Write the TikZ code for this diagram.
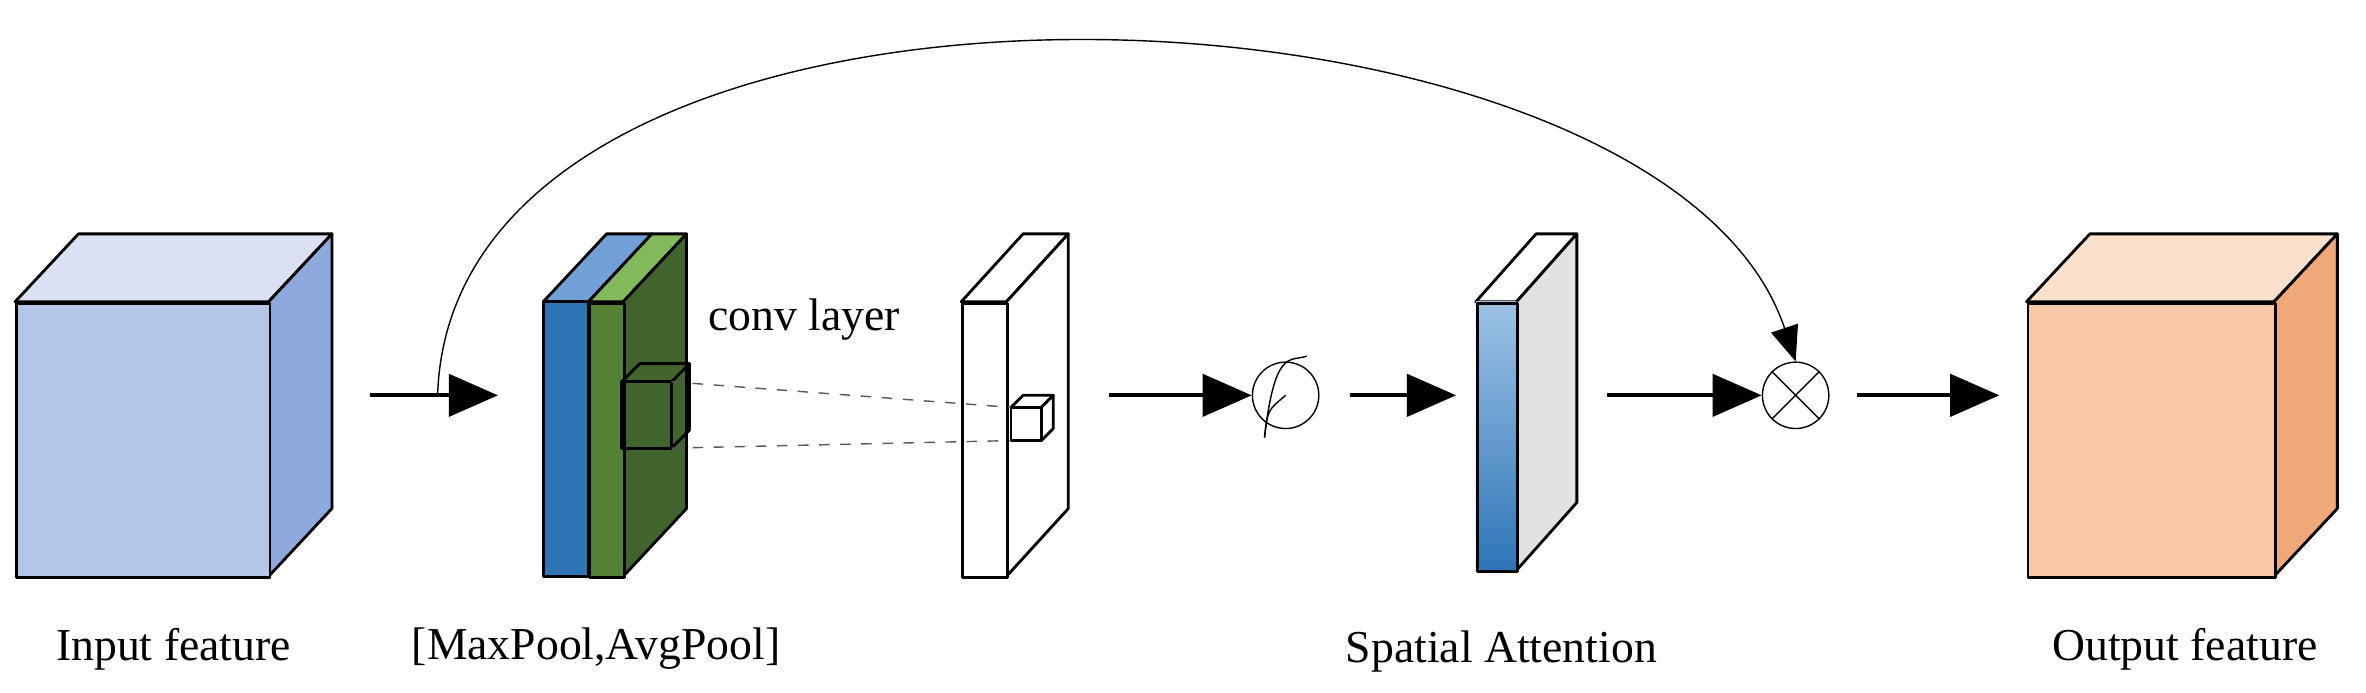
\documentclass[tikz,border=0pt]{standalone}
\usepackage{fontspec}
\setmainfont{Liberation Serif}
\usetikzlibrary{arrows.meta}
\begin{document}
\begin{tikzpicture}[x=0.01509cm,y=-0.01509cm,
  fl/.style={very thick,-{Triangle[length=14pt,width=12pt]}},
  lab/.style={font=\fontsize{13pt}{15pt}\selectfont},
  edge/.style={draw=black,line width=0.8pt,line join=round}]
\useasboundingbox (0,0) rectangle (1568,459);
% cube macro-like drawing
\newcommand{\mycube}[8]{% x1 x2 y1 y2 dx dy front top side
}
% Input cube
\fill[fill={rgb,255:red,217;green,225;blue,242},edge] (10,200)--(52,155)--(220,155)--(178,200)--cycle;
\fill[fill={rgb,255:red,142;green,169;blue,219},edge] (178,200)--(220,155)--(220,337)--(178,382)--cycle;
\node[fill={rgb,255:red,180;green,198;blue,231},edge,minimum width=168*0.01509cm,minimum height=182*0.01509cm,anchor=north west,inner sep=0] (in) at (10,200) {};
% Output cube
\fill[fill={rgb,255:red,251;green,224;blue,204},edge] (1343,200)--(1385,155)--(1549,155)--(1507,200)--cycle;
\fill[fill={rgb,255:red,240;green,168;blue,120},edge] (1507,200)--(1549,155)--(1549,337)--(1507,382)--cycle;
\node[fill={rgb,255:red,248;green,200;blue,166},edge,minimum width=164*0.01509cm,minimum height=182*0.01509cm,anchor=north west,inner sep=0] (out) at (1343,200) {};
% Pool block
\fill[fill={rgb,255:red,112;green,160;blue,214},edge] (360,200)--(402,155)--(432,155)--(390,200)--cycle;
\fill[fill={rgb,255:red,130;green,185;blue,90},edge] (390,200)--(432,155)--(455,155)--(413,200)--cycle;
\fill[fill={rgb,255:red,65;green,100;blue,45},edge] (413,200)--(455,155)--(455,337)--(413,382)--cycle;
\fill[fill={rgb,255:red,46;green,117;blue,182},edge] (360,200) rectangle (390,382);
\node[fill={rgb,255:red,84;green,130;blue,53},edge,minimum width=23*0.01509cm,minimum height=182*0.01509cm,anchor=north west,inner sep=0] (pool) at (390,200) {};
% small cube in pool
\draw[edge] (412,253)--(424,241)--(457,241)--(445,253) (445,253)--(457,241)--(457,285)--(445,297);
\draw[edge] (412,253) rectangle (445,297);
\coordinate (sc1) at (445,253); \coordinate (sc2) at (445,297);
% conv plate
\draw[fill=white,edge] (637,200)--(678,155)--(708,155)--(667,200)--cycle;
\draw[fill=white,edge] (667,200)--(708,155)--(708,337)--(667,382)--cycle;
\node[fill=white,edge,minimum width=30*0.01509cm,minimum height=182*0.01509cm,anchor=north west,inner sep=0] (conv) at (637,200) {};
\draw[fill=white,edge] (670,270)--(678,262)--(698,262)--(690,270)--cycle;
\draw[fill=white,edge] (690,270)--(698,262)--(698,284)--(690,292)--cycle;
\draw[fill=white,edge] (670,270) rectangle (690,292);
\coordinate (pc1) at (670,270); \coordinate (pc2) at (670,292);
\draw[dashed,gray!70!black,thin] (sc1)--(pc1) (sc2)--(pc2);
\node[lab] at (533,212) {conv layer};
% attention plate
\draw[fill=white,edge] (978,200)--(1018,155)--(1045,155)--(1005,200)--cycle;
\draw[fill={rgb,255:red,226;green,226;blue,226},edge] (1005,200)--(1045,155)--(1045,333)--(1005,378)--cycle;
\shade[top color={rgb,255:red,157;green,195;blue,230},bottom color={rgb,255:red,46;green,117;blue,182}] (978,200) rectangle (1005,378);
\node[edge,minimum width=27*0.01509cm,minimum height=178*0.01509cm,anchor=north west,inner sep=0] (att) at (978,200) {};
% circles
\node[draw,circle,minimum size=44*0.01509cm,inner sep=0,thin] (sig) at (852,262) {};
\draw[thin] (838,290) .. controls (845,230) and (855,240) .. (866,236);
\draw[thin] (838,290) .. controls (840,272) .. (852,262);
\node[draw,circle,minimum size=44*0.01509cm,inner sep=0,thin] (mul) at (1190,262) {};
\draw[thin] (mul.north west)--(mul.south east) (mul.north east)--(mul.south west);
% arrows
\coordinate (a0) at (245,262);
\draw[fl] (a0) -- (330,262);
\coordinate (a1) at (735,262);
\draw[fl] (a1) -- (sig.west);
\draw[fl] (sig.east) ++(20,0) -- (965,262);
\draw[fl] (1065,262) -- (mul.west);
\draw[fl] (mul.east) ++(18,0) -- (1325,262);
\coordinate (sk) at (290,262);
\draw[thin,-{Triangle[length=10pt,width=8pt]}] (sk) .. controls (300,-60) and (1100,-30) .. (mul.north);
% labels
\node[lab] at (115,430) {Input feature};
\node[lab] at (395,430) {[MaxPool,AvgPool]};
\node[lab] at (995,432) {Spatial Attention};
\node[lab] at (1448,430) {Output feature};
\end{tikzpicture}
\end{document}
